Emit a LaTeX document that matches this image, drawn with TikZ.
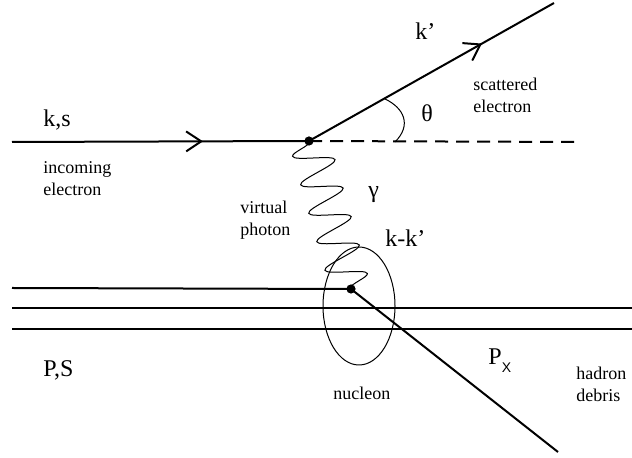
\documentclass[tikz,border=0pt]{standalone}
\usepackage{fontspec}
\setmainfont{Liberation Serif}
\setsansfont{Liberation Sans}
\usetikzlibrary{
    arrows.meta,
    positioning,
    shapes.geometric,
    decorations.pathmorphing,
    decorations.markings
}
\tikzset{
  fline/.style    = {line width=1pt, black},
  thinline/.style = {line width=0.5pt, black},
  vdot/.style     = {circle, fill=black, inner sep=0pt, minimum size=4.6pt},
  barb/.style     = {postaction={decorate},
                     decoration={markings, mark=at position #1 with
                       {\arrow{Straight Barb[length=7.5pt, width=10pt]}}}},
  photon/.style   = {thinline, decorate,
                     decoration={snake, mirror, amplitude=10pt,
                       segment length=14.8pt, pre length=0.5pt, post length=0.5pt}}
}

\begin{document}
\begin{tikzpicture}[
    x=0.5pt, y=-0.5pt,
    lbl/.style={font=\fontsize{12}{14}\selectfont, inner sep=0pt, anchor=base west},
    note/.style={font=\fontsize{9}{11}\selectfont, inner sep=0pt, anchor=base west,
                 align=left}
  ]
    \useasboundingbox (0,0) rectangle (632,458);

    \node[vdot] (vtx) at (309,141) {};
    \node[vdot] (hit) at (351,289) {};
    \coordinate (ein)  at (12,142);
    \coordinate (eout) at (554,3);
    \coordinate (beam) at (578,142);
    \coordinate (pin)  at (12,288);
    \coordinate (xout) at (558,452);

    % electron side
    \draw[fline, barb=0.643] (ein) -- (vtx.center);
    \draw[fline, barb=0.706] (vtx.center) -- (eout);
    \draw[fline, dash pattern=on 6.5pt off 4pt] (vtx.center) -- (beam);
    \draw[thinline] (385,99) .. controls (404,108) and (412,125) .. (395,142);

    % photon and nucleon
    \draw[photon] (vtx.center) -- (hit.center);
    \node[draw, thinline, ellipse, inner sep=0pt, minimum width=36pt,
          minimum height=59pt] (nucl) at (359,306) {};
    \draw[fline] (pin) -- (hit.center);
    \draw[fline] (12,308) -- (632,308);
    \draw[fline] (12,329) -- (632,329);
    \draw[fline] (hit.center) -- (xout);

    % labels (two-line notes sit on their last baseline)
    \node[lbl] (ks) at (43,127) {k,s};
    \node[note] (inc) at (43,196) {incoming\\electron};
    \node[lbl] (kp) at (415,40) {k'};
    \node[lbl] (th) at (421,122) {θ};
    \node[note] (scat) at (473,113) {scattered\\electron};
    \node[note] (virt) at (240,236) {virtual\\photon};
    \node[lbl] (gam) at (368,198) {γ};
    \node[lbl] (kk) at (385,247) {k-k'};
    \node[lbl] (ps) at (43,377) {P,S};
    \node[lbl] (px) at (488,365) {P\raisebox{-4pt}{\fontsize{7}{8}\selectfont\sffamily X}};
    \node[note] (nucl-l) at (333,400) {nucleon};
    \node[note] (had) at (576,402) {hadron\\debris};
  \end{tikzpicture}
\end{document}
